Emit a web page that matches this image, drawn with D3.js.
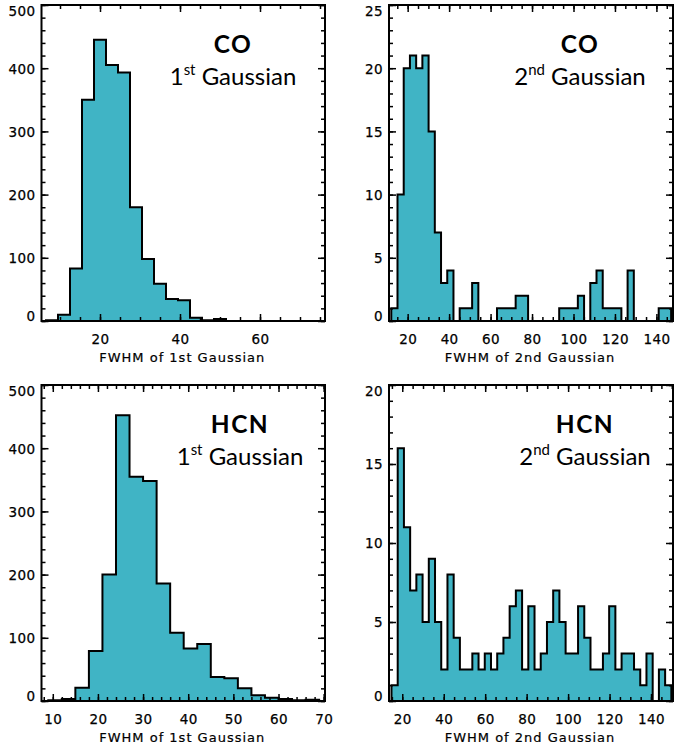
<!DOCTYPE html>
<html>
<head>
<meta charset="utf-8">
<script src="https://cdn.jsdelivr.net/npm/d3@7"></script>
<style>
  html, body { margin: 0; padding: 0; background: #fff; }
  svg { display: block; }
  .tick text { font-family: "DejaVu Sans", sans-serif; font-size: 13.5px; letter-spacing: 0.4px; fill: #000; stroke: #000; stroke-width: 0.25px; }
  .axtitle { font-family: "DejaVu Sans", sans-serif; font-size: 13px; letter-spacing: 1px; fill: #000; stroke: #000; stroke-width: 0.2px; }
  .ttl { font-family: Lato, "Open Sans", sans-serif; fill: #000; }
</style>
</head>
<body>
<script>
// ---------------- DATA ----------------
// CO, 1st Gaussian FWHM histogram (bin width 3, first bin at 6.5)
const coFirstBinStart = 6.5;
const coFirstBinWidth = 3;
const coFirstCounts = [1, 10, 83, 350, 445, 405, 393, 180, 98, 59, 35, 33, 5, 1, 3, 0, 0, 0, 0, 0, 0, 0, 0];

// CO, 2nd Gaussian FWHM histogram
const coSecondBinStart = 12.1;
const coSecondBinWidth = 3;
const coSecondCounts = [1, 10, 20, 21, 20, 21, 15, 7, 3, 4, 0, 1, 1, 3, 0, 0, 0, 1, 1, 1, 2, 2, 0, 0, 0, 0, 0, 1, 1, 1, 2, 0, 3, 4, 1, 1, 1, 0, 4, 0, 0, 0, 0, 1, 1];

// HCN, 1st Gaussian FWHM histogram
const hcnFirstBinStart = 9;
const hcnFirstBinWidth = 3;
const hcnFirstCounts = [1, 3, 21, 79, 200, 452, 355, 348, 186, 108, 83, 90, 38, 36, 20, 9, 5, 3, 1, 2];

// HCN, 2nd Gaussian FWHM histogram
const hcnSecondBinStart = 14.8;
const hcnSecondBinWidth = 3;
const hcnSecondCounts = [1, 16, 11, 7, 8, 5, 9, 5, 2, 8, 4, 2, 2, 3, 2, 3, 2, 3, 4, 6, 7, 2, 6, 2, 3, 5, 7, 5, 3, 3, 6, 4, 2, 2, 3, 6, 2, 3, 3, 2, 1, 3, 0, 2, 1];

// Tick labels
const xTicksFirstCO = [20, 40, 60];
const xTicksFirstHCN = [10, 20, 30, 40, 50, 60, 70];
const xTicksSecond = [20, 40, 60, 80, 100, 120, 140];
const yTicksFirst = [0, 100, 200, 300, 400, 500];
const yTicksCOSecond = [0, 5, 10, 15, 20, 25];
const yTicksHCNSecond = [0, 5, 10, 15, 20];

const xTitleFirst = "FWHM of 1st Gaussian";
const xTitleSecond = "FWHM of 2nd Gaussian";

// ---------------- LAYOUT ----------------
const W = 674, H = 747;
const FILL = "#40b4c5";

const svg = d3.select("body").append("svg").attr("width", W).attr("height", H);
svg.append("rect").attr("width", W).attr("height", H).attr("fill", "#fff");

function range(a, b, s) { const r = []; for (let v = a; v <= b + 1e-9; v += s) r.push(+v.toFixed(6)); return r; }

const panels = [
  { left: 41.5, right: 325, top: 5, bottom: 321, xDomain: [5.375, 76.25], yDomain: [0, 500],
    start: coFirstBinStart, width: coFirstBinWidth, counts: coFirstCounts,
    xMajor: xTicksFirstCO, xMinor: range(10, 75, 5), yMajor: yTicksFirst, yMinor: range(0, 500, 20),
    xTitle: xTitleFirst, mol: "CO", ord: "1", sup: "st", cx: 233 },
  { left: 389, right: 673, top: 5, bottom: 321, xDomain: [11.0, 148.0], yDomain: [0, 25],
    start: coSecondBinStart, width: coSecondBinWidth, counts: coSecondCounts,
    xMajor: xTicksSecond, xMinor: range(15, 145, 5), yMajor: yTicksCOSecond, yMinor: range(0, 25, 1),
    xTitle: xTitleSecond, mol: "CO", ord: "2", sup: "nd", cx: 580 },
  { left: 41.5, right: 325, top: 385, bottom: 701, xDomain: [7.5, 70.3], yDomain: [0, 500],
    start: hcnFirstBinStart, width: hcnFirstBinWidth, counts: hcnFirstCounts,
    xMajor: xTicksFirstHCN, xMinor: range(8, 70, 2), yMajor: yTicksFirst, yMinor: range(0, 500, 20),
    xTitle: xTitleFirst, mol: "HCN", ord: "1", sup: "st", cx: 240 },
  { left: 389, right: 673, top: 385, bottom: 701, xDomain: [13.6, 150.6], yDomain: [0, 20],
    start: hcnSecondBinStart, width: hcnSecondBinWidth, counts: hcnSecondCounts,
    xMajor: xTicksSecond, xMinor: range(15, 150, 5), yMajor: yTicksHCNSecond, yMinor: range(0, 20, 1),
    xTitle: xTitleSecond, mol: "HCN", ord: "2", sup: "nd", cx: 585 }
];

panels.forEach((p, idx) => {
  const x = d3.scaleLinear().domain(p.xDomain).range([p.left, p.right]);
  const y = d3.scaleLinear().domain(p.yDomain).range([p.bottom, p.top]);
  const g = svg.append("g");

  const clipId = "clip" + idx;
  svg.append("clipPath").attr("id", clipId).append("rect")
    .attr("x", p.left).attr("y", p.top).attr("width", p.right - p.left).attr("height", p.bottom - p.top);

  // histogram step outline
  const edges = p.counts.map((c, i) => p.start + i * p.width);
  const last = p.start + p.counts.length * p.width;
  const pts = [[x(edges[0]), y(0)]];
  p.counts.forEach((c, i) => {
    pts.push([x(edges[i]), y(c)]);
    pts.push([x(i + 1 < p.counts.length ? edges[i + 1] : last), y(c)]);
  });
  pts.push([x(last), y(0)]);
  const line = d3.line();
  const hg = g.append("g").attr("clip-path", `url(#${clipId})`);
  hg.append("path").attr("d", line(pts) + "Z").attr("fill", FILL).attr("stroke", "none");
  hg.append("path").attr("d", line(pts)).attr("fill", "none").attr("stroke", "#000")
    .attr("stroke-width", 2).attr("stroke-linejoin", "miter");

  // axes: ticks inward on all four sides
  const tickStroke = (sel) => { sel.select(".domain").remove(); sel.selectAll("line").attr("stroke", "#000").attr("stroke-width", 1.5); };

  // bottom
  const bMaj = g.append("g").attr("transform", `translate(0,${p.bottom})`)
    .call(d3.axisBottom(x).tickValues(p.xMajor).tickSize(-7).tickPadding(0).tickFormat(d3.format("d")));
  tickStroke(bMaj);
  bMaj.selectAll("text").attr("y", 23).attr("dy", 0);
  g.append("g").attr("transform", `translate(0,${p.bottom})`)
    .call(d3.axisBottom(x).tickValues(p.xMinor).tickSize(-4).tickFormat("")).call(tickStroke);
  // top
  g.append("g").attr("transform", `translate(0,${p.top})`)
    .call(d3.axisTop(x).tickValues(p.xMajor).tickSize(-7).tickFormat("")).call(tickStroke);
  g.append("g").attr("transform", `translate(0,${p.top})`)
    .call(d3.axisTop(x).tickValues(p.xMinor).tickSize(-4).tickFormat("")).call(tickStroke);
  // left
  const lMaj = g.append("g").attr("transform", `translate(${p.left},0)`)
    .call(d3.axisLeft(y).tickValues(p.yMajor).tickSize(-7).tickPadding(6).tickFormat(d3.format("d")));
  tickStroke(lMaj);
  const yMax = p.yDomain[1];
  lMaj.selectAll("text").attr("dy", d => d === 0 ? "-0.05em" : (d === yMax ? "0.75em" : "0.36em"));
  g.append("g").attr("transform", `translate(${p.left},0)`)
    .call(d3.axisLeft(y).tickValues(p.yMinor).tickSize(-4).tickFormat("")).call(tickStroke);
  // right
  g.append("g").attr("transform", `translate(${p.right},0)`)
    .call(d3.axisRight(y).tickValues(p.yMajor).tickSize(-7).tickFormat("")).call(tickStroke);
  g.append("g").attr("transform", `translate(${p.right},0)`)
    .call(d3.axisRight(y).tickValues(p.yMinor).tickSize(-4).tickFormat("")).call(tickStroke);

  // frame
  g.append("rect").attr("x", p.left).attr("y", p.top)
    .attr("width", p.right - p.left).attr("height", p.bottom - p.top)
    .attr("fill", "none").attr("stroke", "#000").attr("stroke-width", 2);

  // axis title
  g.append("text").attr("class", "axtitle")
    .attr("x", (p.left + p.right) / 2 - 1).attr("y", p.bottom + 40.5)
    .attr("text-anchor", "middle").text(p.xTitle);

  // in-panel labels
  g.append("text").attr("class", "ttl")
    .attr("x", p.cx).attr("y", p.top + 48).attr("text-anchor", "middle")
    .attr("font-weight", 700).attr("font-size", 24.5).attr("letter-spacing", 1.5).text(p.mol);
  const t2 = g.append("text").attr("class", "ttl")
    .attr("x", p.cx).attr("y", p.top + 80).attr("text-anchor", "middle").attr("font-size", 24);
  t2.append("tspan").text(p.ord);
  t2.append("tspan").attr("font-size", 15).attr("dy", -10).text(p.sup);
  t2.append("tspan").attr("dy", 10).text(" Gaussian");
});
</script>
</body>
</html>
